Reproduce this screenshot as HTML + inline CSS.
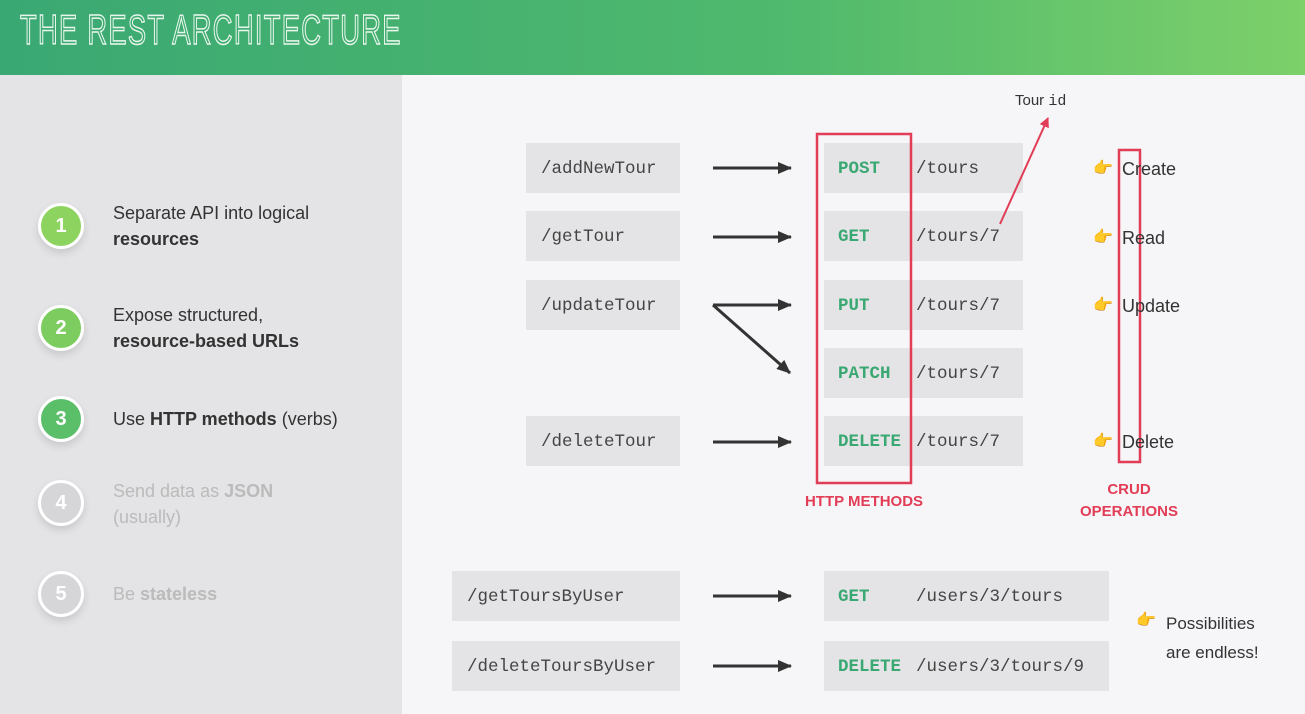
<!DOCTYPE html>
<html><head><style>
body{margin:0;width:1305px;height:714px;overflow:hidden;position:relative;font-family:"Liberation Sans",sans-serif;background:#f6f5f7}
.hdr{position:absolute;left:0;top:0;width:1305px;height:75px;background:linear-gradient(90deg,#3aa873,#4fb96d 60%,#7dd06a)}
.hdr span{position:absolute;left:20px;top:6px;font-size:42px;letter-spacing:2px;font-family:"Liberation Sans Narrow","Liberation Sans",sans-serif;color:transparent;-webkit-text-stroke:1.5px #e8f6ec;transform:scaleX(.65);transform-origin:left;white-space:nowrap}
.left{position:absolute;left:0;top:75px;width:402px;height:639px;background:#e4e3e5}
.c{position:absolute;width:40px;height:40px;border-radius:50%;border:3px solid #fff;color:#fff;font-weight:bold;font-size:20px;text-align:center;line-height:40px;box-shadow:0 4px 8px rgba(0,0,0,.12)}
.t{position:absolute;left:113px;font-size:18px;color:#333;line-height:26px}
.g{color:#bbb}
.b{position:absolute;background:#e4e3e5;font-family:"Liberation Mono",monospace;font-size:17.5px;color:#444;line-height:52px;height:50px}
.m{color:#3aa873;font-weight:bold;position:absolute;left:14px}
.p{position:absolute;left:92px}
.lab{position:absolute;color:#e23d56;font-weight:bold;font-size:15px;text-align:center}
.cr{position:absolute;left:1122px;font-size:18px;color:#333}
.h{position:absolute;font-size:16px;color:#e6a12a}
</style></head><body>
<div class="hdr"><span>THE REST ARCHITECTURE</span></div>
<div class="left"></div>
<div class="c" style="left:38px;top:203px;background:#8dd35f">1</div>
<div class="c" style="left:38px;top:305px;background:#7ccc5f">2</div>
<div class="c" style="left:38px;top:396px;background:#5bbf6a">3</div>
<div class="c" style="left:38px;top:480px;background:#d6d5d8">4</div>
<div class="c" style="left:38px;top:571px;background:#d6d5d8">5</div>
<div class="t" style="top:200px">Separate API into logical<br><b>resources</b></div>
<div class="t" style="top:302px">Expose structured,<br><b>resource-based URLs</b></div>
<div class="t" style="top:406px">Use <b>HTTP methods</b> (verbs)</div>
<div class="t g" style="top:478px">Send data as <b>JSON</b><br>(usually)</div>
<div class="t g" style="top:581px">Be <b>stateless</b></div>

<div class="b" style="left:526px;top:143px;width:154px"><span class="p" style="left:15px">/addNewTour</span></div>
<div class="b" style="left:526px;top:211px;width:154px"><span class="p" style="left:15px">/getTour</span></div>
<div class="b" style="left:526px;top:280px;width:154px"><span class="p" style="left:15px">/updateTour</span></div>
<div class="b" style="left:526px;top:416px;width:154px"><span class="p" style="left:15px">/deleteTour</span></div>
<div class="b" style="left:452px;top:571px;width:228px"><span class="p" style="left:15px">/getToursByUser</span></div>
<div class="b" style="left:452px;top:641px;width:228px"><span class="p" style="left:15px">/deleteToursByUser</span></div>

<div class="b" style="left:824px;top:143px;width:199px"><span class="m">POST</span><span class="p">/tours</span></div>
<div class="b" style="left:824px;top:211px;width:199px"><span class="m">GET</span><span class="p">/tours/7</span></div>
<div class="b" style="left:824px;top:280px;width:199px"><span class="m">PUT</span><span class="p">/tours/7</span></div>
<div class="b" style="left:824px;top:348px;width:199px"><span class="m">PATCH</span><span class="p">/tours/7</span></div>
<div class="b" style="left:824px;top:416px;width:199px"><span class="m">DELETE</span><span class="p">/tours/7</span></div>
<div class="b" style="left:824px;top:571px;width:285px"><span class="m">GET</span><span class="p">/users/3/tours</span></div>
<div class="b" style="left:824px;top:641px;width:285px"><span class="m">DELETE</span><span class="p">/users/3/tours/9</span></div>

<svg style="position:absolute;left:0;top:0" width="1305" height="714">
<defs><marker id="a" markerWidth="14" markerHeight="12" refX="13" refY="6" orient="auto" markerUnits="userSpaceOnUse"><path d="M0,0L14,6L0,12z" fill="#333"/></marker>
<marker id="r" markerWidth="10" markerHeight="10" refX="9" refY="5" orient="auto" markerUnits="userSpaceOnUse"><path d="M0,0L10,5L0,10z" fill="#e23d56"/></marker></defs>
<g stroke="#333" stroke-width="3" marker-end="url(#a)">
<line x1="713" y1="168" x2="791" y2="168"/><line x1="713" y1="237" x2="791" y2="237"/>
<line x1="713" y1="305" x2="791" y2="305"/><line x1="713" y1="305" x2="790" y2="373"/>
<line x1="713" y1="442" x2="791" y2="442"/><line x1="713" y1="596" x2="791" y2="596"/>
<line x1="713" y1="666" x2="791" y2="666"/></g>
<rect x="817" y="134" width="94" height="349" fill="none" stroke="#e23d56" stroke-width="2.5"/>
<rect x="1119" y="150" width="21" height="312" fill="none" stroke="#e23d56" stroke-width="2.5"/>
<line x1="1000" y1="224" x2="1048" y2="118" stroke="#e23d56" stroke-width="2" marker-end="url(#r)"/>
</svg>
<div style="position:absolute;left:1015px;top:92px;font-size:15px;color:#333">Tour <span style="font-family:'Liberation Mono',monospace">id</span></div>
<div class="lab" style="left:790px;top:493px;width:148px">HTTP METHODS</div>
<div class="lab" style="left:1070px;top:479px;width:118px;line-height:22px">CRUD<br>OPERATIONS</div>
<div class="h" style="left:1093px;top:158px">👉</div><div class="cr" style="top:159px">Create</div>
<div class="h" style="left:1093px;top:227px">👉</div><div class="cr" style="top:228px">Read</div>
<div class="h" style="left:1093px;top:295px">👉</div><div class="cr" style="top:296px">Update</div>
<div class="h" style="left:1093px;top:431px">👉</div><div class="cr" style="top:432px">Delete</div>
<div class="h" style="left:1136px;top:610px">👉</div>
<div style="position:absolute;left:1166px;top:609px;font-size:17px;color:#333;line-height:29px">Possibilities<br>are endless!</div>
</body></html>
